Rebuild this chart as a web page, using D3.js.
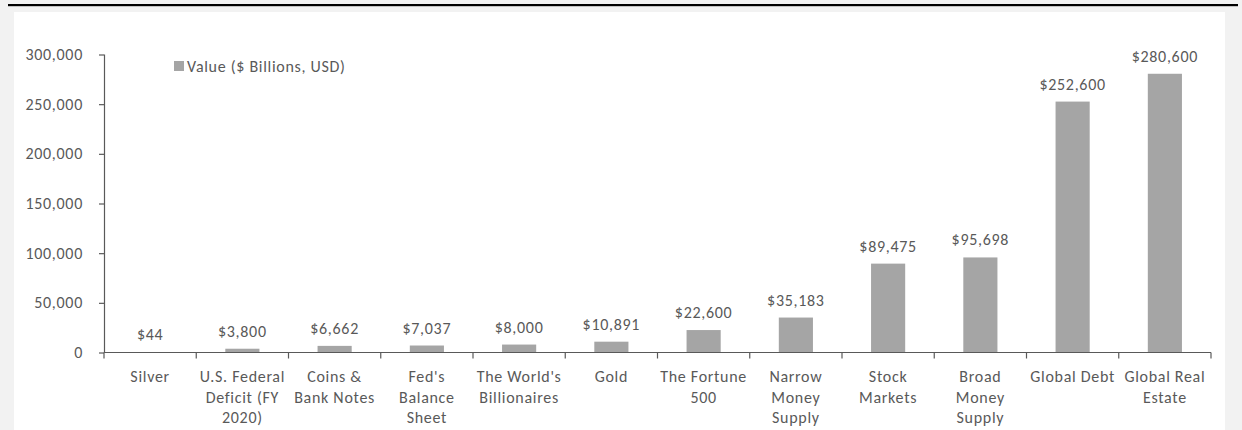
<!DOCTYPE html>
<html>
<head>
<meta charset="utf-8">
<script src="https://cdn.jsdelivr.net/npm/d3@7"></script>
<style>
  html, body { margin: 0; padding: 0; background: #f2f2f2; }
  svg { display: block; }
  text { font-family: Carlito, Lato, "Open Sans", sans-serif; fill: #595959; letter-spacing: 0.7px; }
</style>
</head>
<body>
<svg id="chart" width="1242" height="430"></svg>
<script>
// Asset categories (line breaks as wrapped under each bar)
const categories = [
  "Silver",
  "U.S. Federal\nDeficit (FY\n2020)",
  "Coins &\nBank Notes",
  "Fed's\nBalance\nSheet",
  "The World's\nBillionaires",
  "Gold",
  "The Fortune\n500",
  "Narrow\nMoney\nSupply",
  "Stock\nMarkets",
  "Broad\nMoney\nSupply",
  "Global Debt",
  "Global Real\nEstate"
];
// Value in $ billions, USD
const values = [44, 3800, 6662, 7037, 8000, 10891, 22600, 35183, 89475, 95698, 252600, 280600];
const yTicks = [0, 50000, 100000, 150000, 200000, 250000, 300000];
const seriesName = "Value ($ Billions, USD)";

const svg = d3.select("#chart");
const W = 1242, H = 430;
const fontSize = 16;
const axisColor = "#595959";
const barColor = "#a5a5a5";

// page frame: rule on top, white panel
svg.append("rect").attr("x", 0).attr("y", 0).attr("width", W).attr("height", H).attr("fill", "#f2f2f2");
svg.append("rect").attr("x", 8).attr("y", 4).attr("width", 1230).attr("height", 2.2).attr("fill", "#000");
svg.append("rect").attr("x", 14).attr("y", 12).attr("width", 1211).attr("height", H - 12).attr("fill", "#fff");

const plot = { left: 104, right: 1211, top: 54.5, bottom: 352.5 };

const x = d3.scaleBand()
  .domain(d3.range(categories.length))
  .range([plot.left, plot.right])
  .paddingInner(0.63)
  .paddingOuter(0.315);

const xOuter = d3.scaleBand()
  .domain(d3.range(categories.length))
  .range([plot.left, plot.right]);

const y = d3.scaleLinear().domain([0, 300000]).range([plot.bottom, plot.top]);

// bars
svg.append("g").selectAll("rect")
  .data(values)
  .join("rect")
  .attr("x", (d, i) => x(i))
  .attr("width", x.bandwidth())
  .attr("y", d => y(d))
  .attr("height", d => y(0) - y(d))
  .attr("fill", barColor);

// y axis
const yAxis = svg.append("g")
  .attr("transform", `translate(${plot.left},0)`)
  .call(d3.axisLeft(y).tickValues(yTicks).tickFormat(d3.format(",")).tickSize(5).tickPadding(16));
yAxis.select(".domain").attr("stroke", axisColor).attr("stroke-width", 1.2).attr("d", `M0.5,${plot.top}V${plot.bottom}`);
yAxis.selectAll(".tick line").attr("stroke", axisColor).attr("stroke-width", 1.2);
yAxis.selectAll(".tick text")
  .attr("font-size", fontSize)
  .attr("font-family", null)
  .attr("fill", "#595959");

// x axis: line with ticks at category boundaries
const xg = svg.append("g");
xg.append("line")
  .attr("x1", plot.left).attr("x2", plot.right)
  .attr("y1", y(0)).attr("y2", y(0))
  .attr("stroke", axisColor).attr("stroke-width", 1.2);
const boundaries = d3.range(categories.length + 1).map(i => i < categories.length ? xOuter(i) : plot.right);
xg.selectAll("line.tk")
  .data(boundaries)
  .join("line")
  .attr("class", "tk")
  .attr("x1", d => d).attr("x2", d => d)
  .attr("y1", y(0)).attr("y2", y(0) + 6)
  .attr("stroke", axisColor).attr("stroke-width", 1.2);

// category labels
const catG = svg.append("g").selectAll("text")
  .data(categories)
  .join("text")
  .attr("text-anchor", "middle")
  .attr("font-size", fontSize)
  .attr("x", (d, i) => xOuter(i) + xOuter.bandwidth() / 2)
  .attr("y", 382);
catG.selectAll("tspan")
  .data((d, i) => d.split("\n").map(s => ({ s, xc: xOuter(i) + xOuter.bandwidth() / 2 })))
  .join("tspan")
  .attr("x", d => d.xc)
  .attr("dy", (d, j) => j === 0 ? 0 : 20.5)
  .text(d => d.s);

// value labels
const fmt = d3.format(",");
svg.append("g").selectAll("text")
  .data(values)
  .join("text")
  .attr("text-anchor", "middle")
  .attr("font-size", fontSize)
  .attr("x", (d, i) => x(i) + x.bandwidth() / 2)
  .attr("y", d => y(d) - 12)
  .text(d => "$" + fmt(d));

// legend
const lg = svg.append("g").attr("transform", "translate(174,61)");
lg.append("rect").attr("width", 10).attr("height", 10).attr("fill", barColor);
lg.append("text").attr("x", 13).attr("y", 10.5).attr("font-size", fontSize).text(seriesName);
</script>
</body>
</html>
